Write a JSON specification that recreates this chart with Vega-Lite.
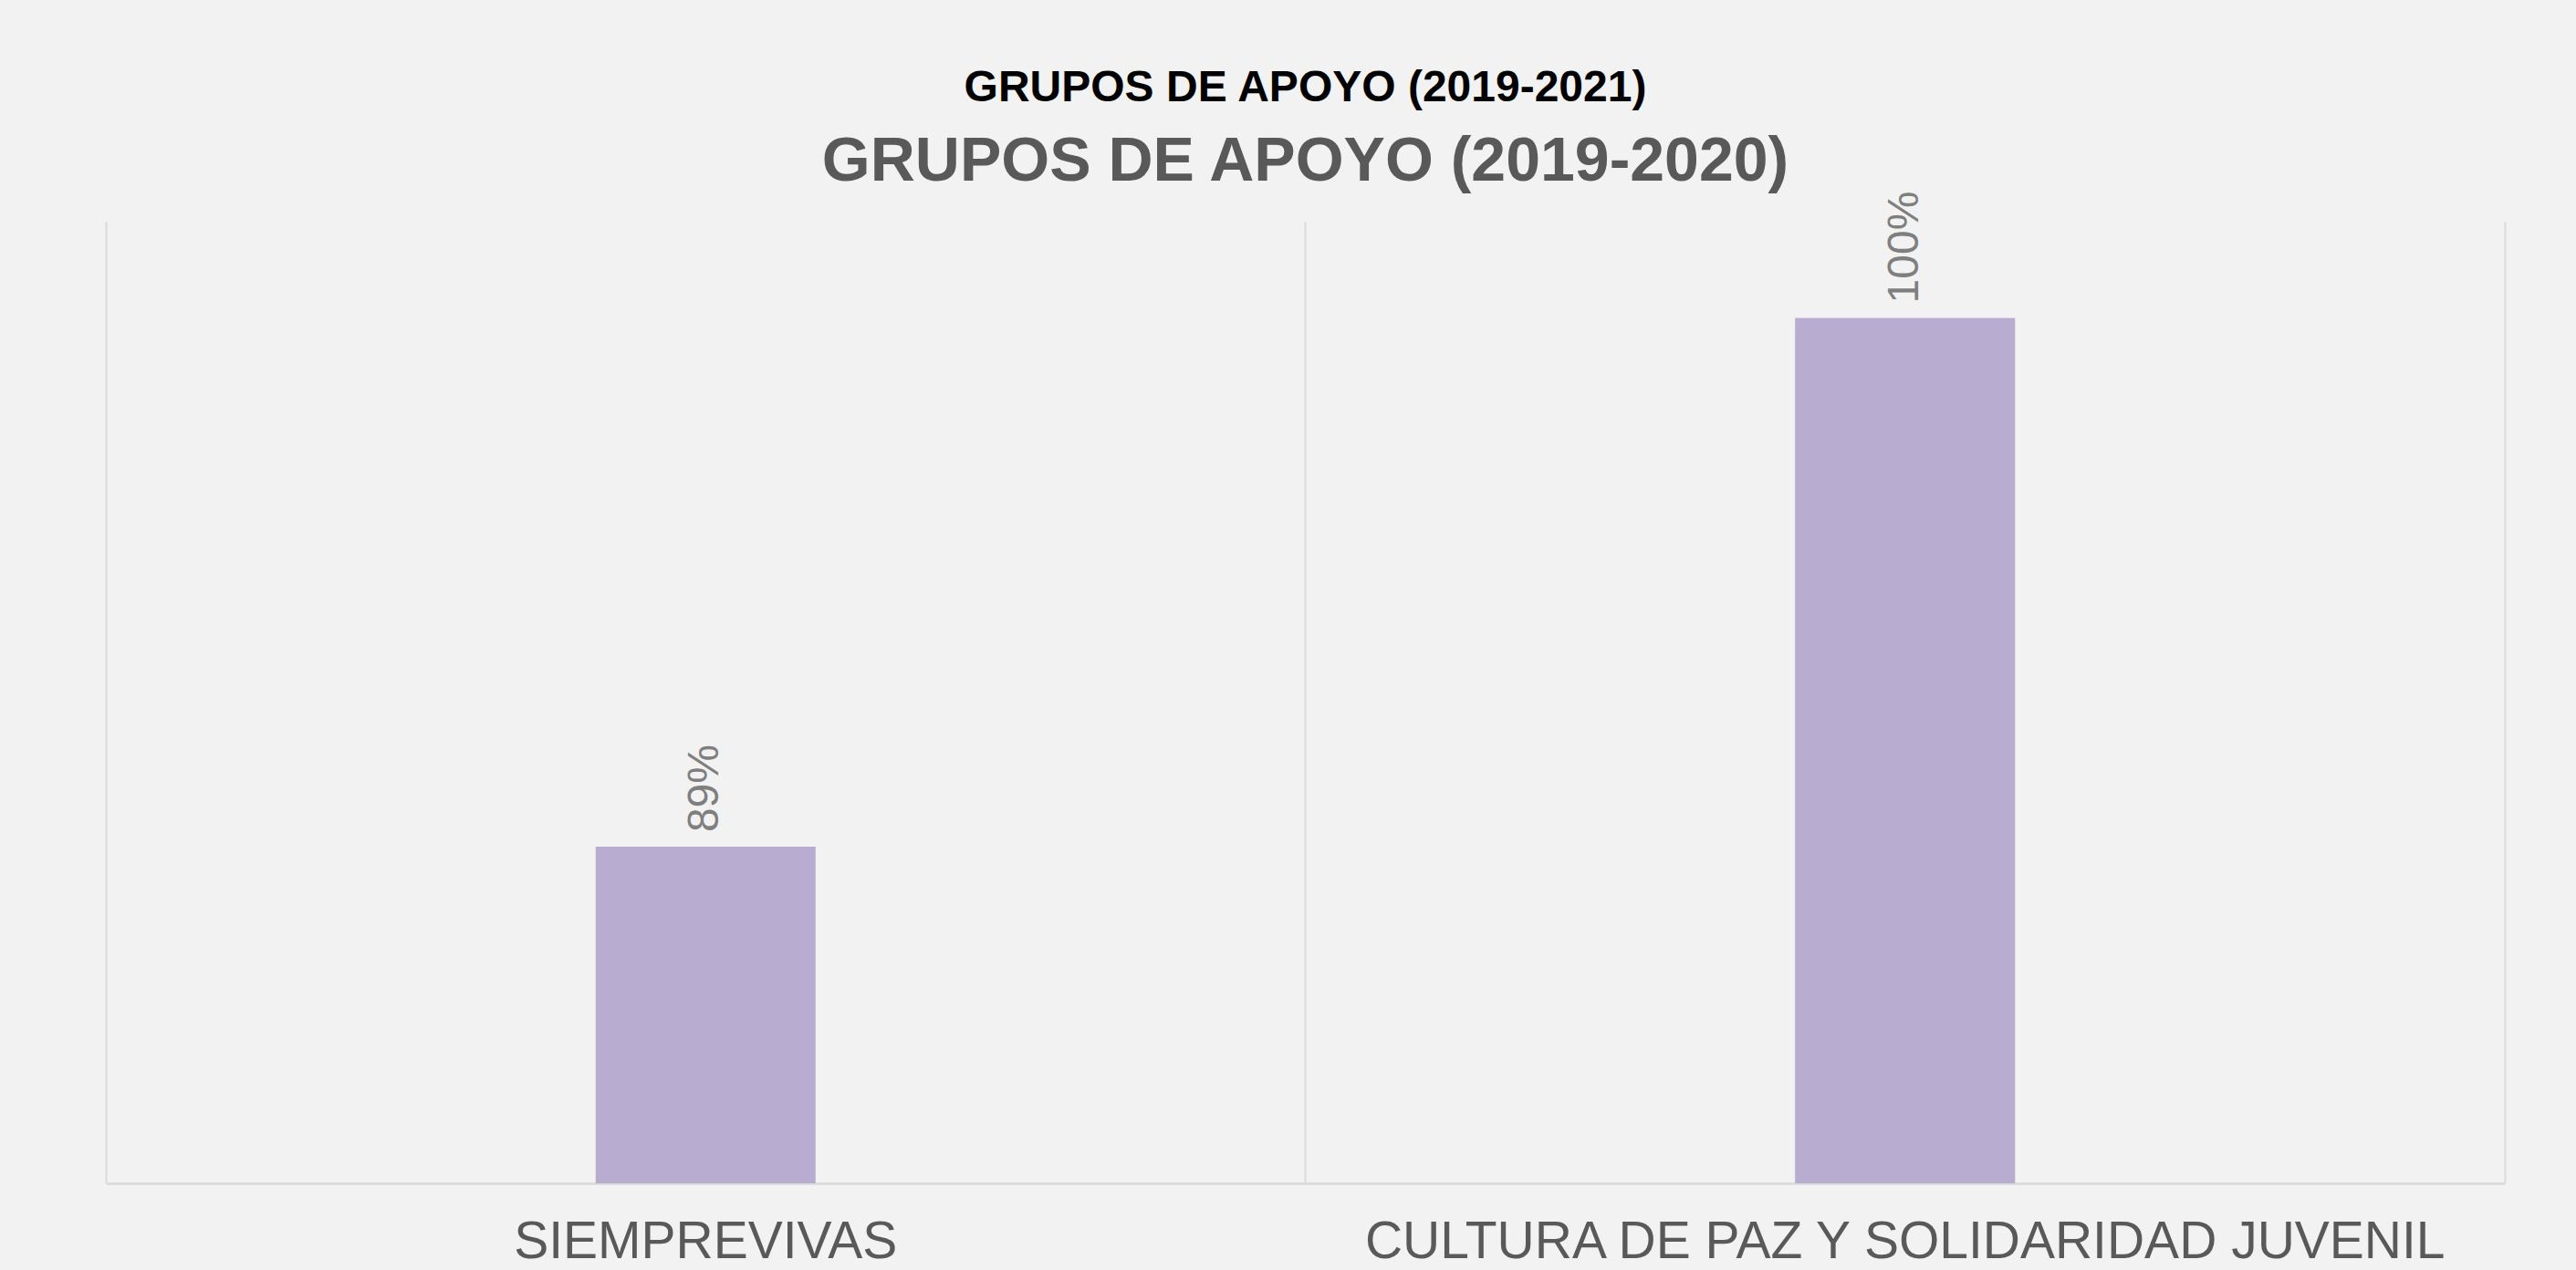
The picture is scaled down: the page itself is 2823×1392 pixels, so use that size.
{
  "$schema": "https://vega.github.io/schema/vega-lite/v6.json",
  "width": 2629,
  "height": 1054,
  "autosize": {"type": "none"},
  "padding": {"left": 116, "top": 243, "right": 78, "bottom": 95},
  "background": "#f2f2f2",
  "title": {
    "text": "GRUPOS DE APOYO  (2019-2021)",
    "subtitle": "GRUPOS DE APOYO (2019-2020)",
    "font": "Liberation Sans",
    "fontSize": 48,
    "fontWeight": "bold",
    "color": "#000000",
    "subtitleFont": "Liberation Sans",
    "subtitleFontSize": 68,
    "subtitleFontWeight": "bold",
    "subtitleColor": "#595959",
    "subtitlePadding": 23,
    "offset": -2,
    "anchor": "middle",
    "frame": "group"
  },
  "data": {
    "values": [
      {"grupo": "SIEMPREVIVAS", "valor": 0.89},
      {"grupo": "CULTURA DE PAZ Y SOLIDARIDAD JUVENIL", "valor": 1.0}
    ]
  },
  "encoding": {
    "x": {
      "field": "grupo",
      "type": "nominal",
      "sort": null,
      "scale": {"paddingInner": 0, "paddingOuter": 0},
      "axis": {
        "title": null,
        "orient": "bottom",
        "labelAngle": 0,
        "labelFont": "Liberation Sans",
        "labelFontSize": 57,
        "labelColor": "#595959",
        "labelBaseline": "bottom",
        "labelPadding": 93,
        "labelLimit": 3000,
        "ticks": false,
        "tickSize": 0,
        "domain": true,
        "domainColor": "#d9d9d9",
        "domainWidth": 2.5,
        "grid": true,
        "gridColor": "#d9d9d9",
        "gridWidth": 2,
        "bandPosition": 0
      }
    },
    "y": {
      "field": "valor",
      "type": "quantitative",
      "scale": {"domain": [0.82, 1.02], "zero": false, "nice": false},
      "axis": {
        "orient": "right",
        "title": null,
        "labels": false,
        "ticks": false,
        "grid": false,
        "domain": true,
        "domainColor": "#d9d9d9",
        "domainWidth": 2
      }
    }
  },
  "layer": [
    {
      "mark": {"type": "bar", "width": {"band": 0.1834}, "color": "#b8add0", "clip": true}
    },
    {
      "mark": {
        "type": "text",
        "angle": 270,
        "align": "left",
        "baseline": "middle",
        "dx": 16,
        "font": "Liberation Sans",
        "fontSize": 48,
        "color": "#7f7f7f"
      },
      "encoding": {
        "text": {"field": "valor", "type": "quantitative", "format": ".0%"}
      }
    }
  ],
  "config": {
    "view": {"stroke": null}
  }
}
